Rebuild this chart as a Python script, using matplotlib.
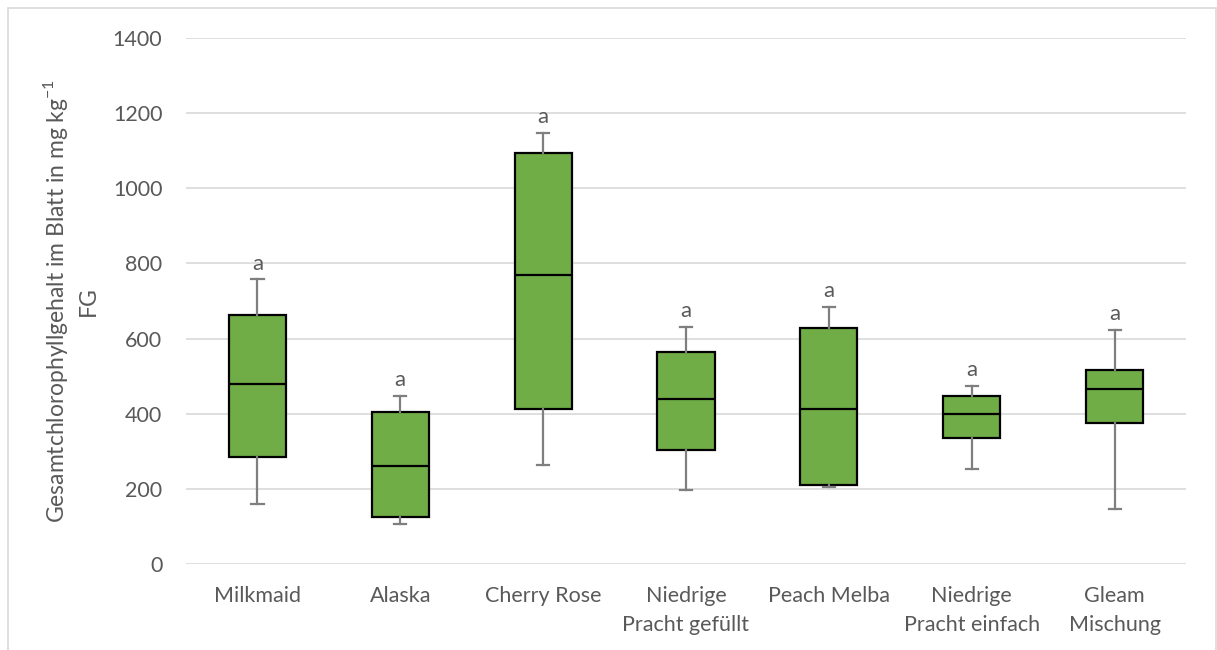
import matplotlib
matplotlib.use("Agg")
import matplotlib.pyplot as plt
from matplotlib.patches import Rectangle

plt.rcParams['font.family'] = ['Lato', 'DejaVu Sans']

# Chlorophyll content per variety (mg/kg fresh weight)
categories = ["Milkmaid", "Alaska", "Cherry Rose", "Niedrige\nPracht gefüllt",
              "Peach Melba", "Niedrige\nPracht einfach", "Gleam\nMischung"]
whisker_low = [159, 105, 263, 197, 204, 253, 146]
q1 = [285, 125, 412, 303, 209, 335, 374]
median = [478, 260, 769, 440, 411, 400, 466]
q3 = [662, 404, 1095, 563, 629, 447, 516]
whisker_high = [758, 448, 1148, 631, 684, 474, 623]
letters = ["a", "a", "a", "a", "a", "a", "a"]

W, H = 1217, 650
fig = plt.figure(figsize=(W / 100, H / 100), dpi=100)
ax = fig.add_axes([186 / W, 1 - 563.7 / H, 1000 / W, (563.7 - 38.3) / H])

stats = []
for i, name in enumerate(categories):
    stats.append(dict(label=name, whislo=whisker_low[i], q1=q1[i], med=median[i],
                      q3=q3[i], whishi=whisker_high[i], fliers=[]))

positions = list(range(1, len(categories) + 1))
ax.bxp(stats, positions=positions, widths=0.40, patch_artist=True, showfliers=False,
       boxprops=dict(facecolor="#70AD47", edgecolor="black", linewidth=1.6),
       medianprops=dict(color="black", linewidth=1.6),
       whiskerprops=dict(color="#7F7F7F", linewidth=1.6),
       capprops=dict(color="#7F7F7F", linewidth=1.6), capwidths=0.085)

for p, top, t in zip(positions, whisker_high, letters):
    ax.annotate(t, (p, top), xytext=(0, 4), textcoords="offset points",
                ha="center", va="bottom", fontsize=16, color="#595959")

ax.set_xlim(0.5, len(categories) + 0.5)
ax.set_ylim(0, 1400)
ax.set_yticks(range(0, 1401, 200))
ax.set_xticks(positions)
ax.set_xticklabels(categories, linespacing=1.55)
ax.yaxis.grid(True, color="#D9D9D9", linewidth=1.2)
ax.set_axisbelow(True)
for s in ax.spines.values():
    s.set_visible(False)
ax.tick_params(axis="both", length=0, labelsize=15.5, colors="#595959")
ax.tick_params(axis="x", pad=16)
ax.tick_params(axis="y", pad=17)

ax.set_ylabel("Gesamtchlorophyllgehalt im Blatt in mg kg$^{\\mathregular{-1}}$\nFG",
              fontsize=16.5, color="#595959", linespacing=1.45, labelpad=10)

fig.patches.append(Rectangle((8 / W, -0.05), (1216 - 8) / W, 1.05 - 8 / H,
                             transform=fig.transFigure, fill=False,
                             edgecolor="#D9D9D9", linewidth=1.2))

fig.savefig("out.png", dpi=100, facecolor="white")
